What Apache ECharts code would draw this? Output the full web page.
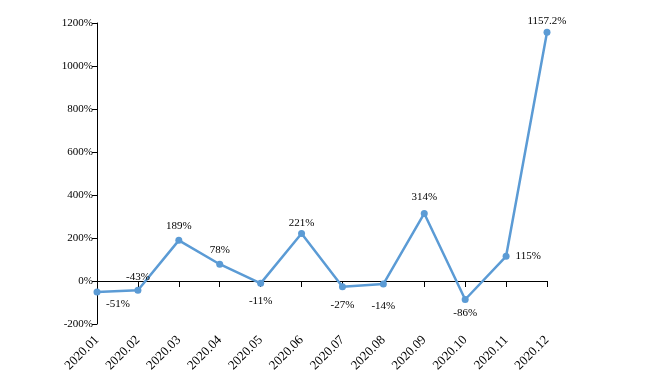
<!DOCTYPE html>
<html><head><meta charset="utf-8">
<script src="https://cdn.jsdelivr.net/npm/echarts@6/dist/echarts.min.js"></script>
<style>html,body{margin:0;padding:0;background:#fff}#c{width:648px;height:379px}</style>
</head><body><div id="c"></div>
<script>
var categories = ['2020.01','2020.02','2020.03','2020.04','2020.05','2020.06','2020.07','2020.08','2020.09','2020.10','2020.11','2020.12'];
var values = [-51, -43, 189, 78, -11, 221, -27, -14, 314, -86, 115, 1157.2];
var labelPositions = ['bottom','top','top','top','bottom','top','bottom','bottom','top','bottom','right','top'];
var labelDistances = [3, 4, 5, 5, 9, 1, 9, 13, 7, 5, 6, 2];
var yTicks = {min: -200, max: 1200, interval: 200};

var font = 'Liberation Serif, Times New Roman, serif';
var chart = echarts.init(document.getElementById('c'));
var data = values.map(function(v, i){
  var lbl = {position: labelPositions[i], distance: labelDistances[i]};
  if (i === 0) lbl.offset = [21, 0];
  return {value: v, label: lbl};
});
chart.setOption({
  animation: false,
  grid: {left: 97, right: 101, top: 23, bottom: 55},
  xAxis: [{
    type: 'category', data: categories, boundaryGap: false,
    axisLine: {onZero: true, lineStyle: {color: '#000', width: 1}},
    axisTick: {show: true, length: 6, interval: 0, lineStyle: {color: '#000'}},
    axisLabel: {show: false}
  },{
    type: 'category', data: categories, boundaryGap: false, position: 'bottom',
    axisLine: {show: false, onZero: false}, axisTick: {show: false},
    axisLabel: {rotate: 45, interval: 0, margin: 14, fontFamily: font, fontSize: 13, color: '#000'}
  }],
  yAxis: {
    type: 'value', min: yTicks.min, max: yTicks.max, interval: yTicks.interval,
    axisLine: {show: true, lineStyle: {color: '#000'}},
    axisTick: {show: true, length: 5, lineStyle: {color: '#000'}},
    splitLine: {show: false},
    axisLabel: {formatter: function(v){ return v + '%'; }, fontFamily: font, fontSize: 11, color: '#000', margin: 4}
  },
  series: [{
    type: 'line', xAxisIndex: 0, data: data,
    lineStyle: {color: '#5b9bd5', width: 2.5},
    itemStyle: {color: '#5b9bd5'},
    symbol: 'circle', symbolSize: 7,
    label: {show: true, formatter: '{c}%', fontFamily: font, fontSize: 11, color: '#000'}
  }]
});
</script></body></html>
